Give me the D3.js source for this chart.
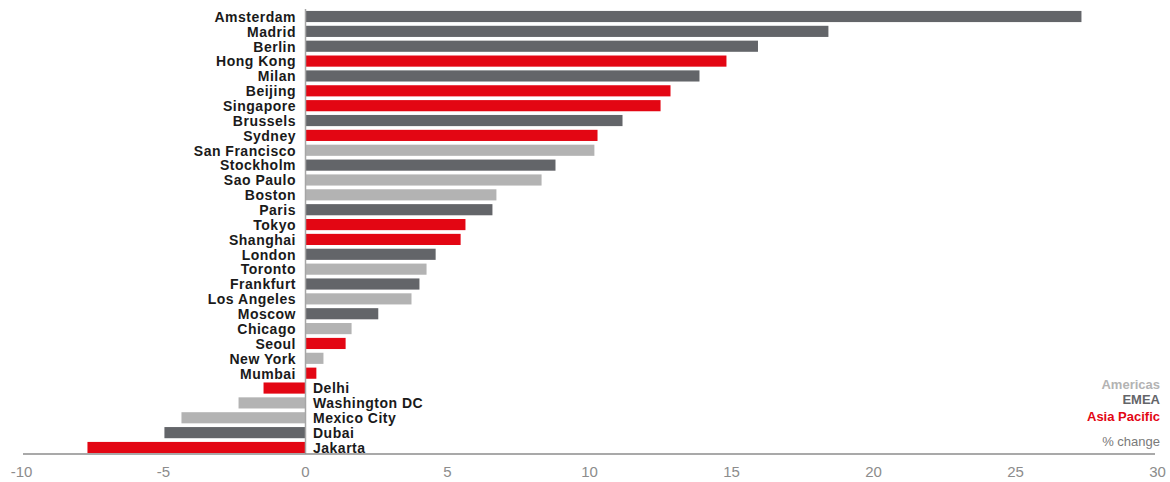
<!DOCTYPE html>
<html>
<head>
<meta charset="utf-8">
<script src="https://cdn.jsdelivr.net/npm/d3@7/dist/d3.min.js"></script>
<style>
  html, body { margin: 0; padding: 0; background: #fff; }
  svg { display: block; font-family: "Liberation Sans", Arial, sans-serif; }
</style>
</head>
<body>
<svg id="chart" width="1170" height="482"></svg>
<script>
// Cities, ranked by % change
const cities = ["Amsterdam","Madrid","Berlin","Hong Kong","Milan","Beijing","Singapore","Brussels","Sydney","San Francisco",
  "Stockholm","Sao Paulo","Boston","Paris","Tokyo","Shanghai","London","Toronto","Frankfurt","Los Angeles",
  "Moscow","Chicago","Seoul","New York","Mumbai","Delhi","Washington DC","Mexico City","Dubai","Jakarta"];
const changes = [27.34, 18.43, 15.95, 14.84, 13.89, 12.87, 12.52, 11.18, 10.3, 10.19,
  8.82, 8.33, 6.74, 6.6, 5.65, 5.48, 4.6, 4.28, 4.03, 3.75,
  2.58, 1.64, 1.43, 0.65, 0.4, -1.46, -2.34, -4.35, -4.95, -7.66];
const regions = ["EMEA","EMEA","EMEA","Asia Pacific","EMEA","Asia Pacific","Asia Pacific","EMEA","Asia Pacific","Americas",
  "EMEA","Americas","Americas","EMEA","Asia Pacific","Asia Pacific","EMEA","Americas","EMEA","Americas",
  "EMEA","Americas","Asia Pacific","Americas","Asia Pacific","Asia Pacific","Americas","Americas","EMEA","Asia Pacific"];
const legendItems = ["Americas","EMEA","Asia Pacific"];
const xTicks = [-10, -5, 0, 5, 10, 15, 20, 25, 30];

const rows = cities.map((c, i) => ({ city: c, value: changes[i], region: regions[i] }));

const svg = d3.select("#chart");

const x = d3.scaleLinear().domain([-10, 30]).range([21, 1157]);
const y = d3.scaleBand().domain(cities).range([9, 455]).paddingInner(0.25).paddingOuter(0.13);
const color = d3.scaleOrdinal().domain(legendItems).range(["#b3b3b3", "#636569", "#e30613"]);

// Bars
svg.append("g").selectAll("rect").data(rows).join("rect")
  .attr("x", d => x(Math.min(0, d.value)))
  .attr("width", d => Math.abs(x(d.value) - x(0)))
  .attr("y", d => y(d.city))
  .attr("height", y.bandwidth())
  .attr("fill", d => color(d.region));

// Zero line
svg.append("line")
  .attr("x1", x(0) + 0.5).attr("x2", x(0) + 0.5)
  .attr("y1", 9).attr("y2", 454)
  .attr("stroke", "#a6a6a6").attr("stroke-width", 1.5);

// City labels: left of zero for gains, right of zero for losses
svg.append("g").selectAll("text").data(rows).join("text")
  .attr("x", d => d.value >= 0 ? x(0) - 9 : x(0) + 8)
  .attr("y", d => y(d.city) + y.bandwidth() / 2)
  .attr("dy", "0.38em")
  .attr("text-anchor", d => d.value >= 0 ? "end" : "start")
  .style("font-size", "14px")
  .style("font-weight", "bold")
  .style("letter-spacing", "0.5px")
  .attr("fill", "#1a1a1a")
  .text(d => d.city);

// Horizontal axis
const axis = d3.axisBottom(x).tickValues(xTicks).tickSize(0).tickPadding(12).tickFormat(d3.format("d"));
const gAxis = svg.append("g").attr("transform", "translate(0,454)").call(axis);
gAxis.select(".domain").attr("stroke", "#8c8c8c").attr("stroke-width", 1.5)
  .attr("d", `M${x(-10) + 2},0H${x(30) - 2}`);
gAxis.selectAll(".tick text")
  .attr("fill", "#8c8c8c")
  .style("font-size", "15px")
  .style("font-family", "\"Liberation Sans Narrow\", \"Liberation Sans\", Arial, sans-serif")
  .text(d => d < 0 ? "-" + Math.abs(d) : d);

// Legend
const legendY = [384, 399, 416];
svg.append("g").selectAll("text").data(legendItems).join("text")
  .attr("x", 1160)
  .attr("y", (d, i) => legendY[i])
  .attr("dy", "0.36em")
  .attr("text-anchor", "end")
  .style("font-size", "13px")
  .style("font-weight", "bold")
  .attr("fill", d => color(d))
  .text(d => d);

svg.append("text")
  .attr("x", 1160).attr("y", 441).attr("dy", "0.36em")
  .attr("text-anchor", "end")
  .style("font-size", "13px")
  .attr("fill", "#7a7a7a")
  .text("% change");
</script>
</body>
</html>
